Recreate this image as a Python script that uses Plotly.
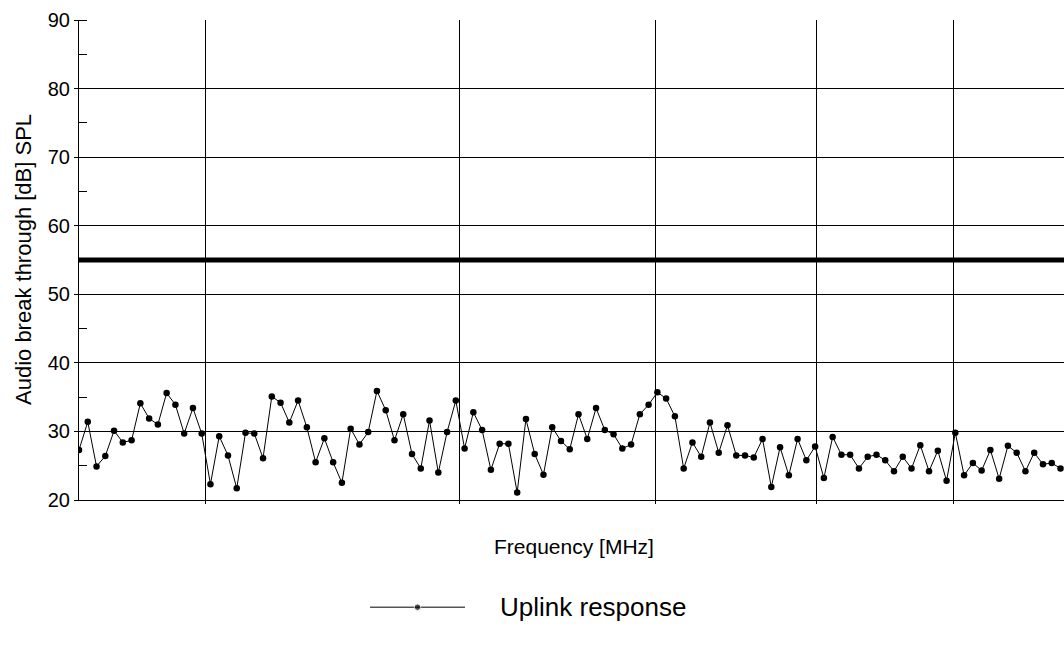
import plotly.graph_objects as go

# Uplink audio break-through, one reading per frequency step
uplink_db = [
    27.3, 31.4, 24.9, 26.4, 30.1, 28.4, 28.7, 34.1, 31.9, 31.0,
    35.6, 33.9, 29.7, 33.4, 29.7, 22.3, 29.3, 26.5, 21.7, 29.8,
    29.7, 26.1, 35.1, 34.2, 31.3, 34.5, 30.6, 25.5, 29.0, 25.5,
    22.5, 30.4, 28.1, 29.9, 35.9, 33.1, 28.7, 32.5, 26.7, 24.6,
    31.6, 24.0, 29.9, 34.5, 27.5, 32.8, 30.2, 24.4, 28.2, 28.2,
    21.1, 31.8, 26.7, 23.7, 30.6, 28.6, 27.4, 32.5, 28.9, 33.4,
    30.2, 29.6, 27.5, 28.1, 32.5, 33.9, 35.7, 34.8, 32.2, 24.6,
    28.4, 26.3, 31.3, 26.9, 30.9, 26.5, 26.5, 26.2, 28.9, 21.9,
    27.7, 23.6, 28.9, 25.8, 27.8, 23.2, 29.2, 26.6, 26.6, 24.6,
    26.3, 26.6, 25.8, 24.2, 26.3, 24.6, 28.0, 24.2, 27.2, 22.8,
    29.8, 23.6, 25.4, 24.3, 27.3, 23.1, 27.9, 26.9, 24.2, 26.9,
    25.2, 25.4, 24.6,
]
freq_step = list(range(len(uplink_db)))

# Limit level for audio break-through
limit_db = 55.0
limit_x = [0, 112.4]

# Vertical frequency grid positions (in frequency steps), unlabeled
freq_grid = [14.4, 43.4, 65.8, 84.1, 99.8]
y_ticks = [20, 30, 40, 50, 60, 70, 80, 90]

FONT = "Liberation Sans, Arial, sans-serif"
PLOT_BOTTOM = (648 - 500) / 628  # paper fraction where the y axis starts

fig = go.Figure()

fig.add_trace(go.Scatter(
    x=limit_x, y=[limit_db, limit_db], mode="lines",
    line=dict(color="black", width=5), showlegend=False, hoverinfo="skip",
))

fig.add_trace(go.Scatter(
    x=freq_step, y=uplink_db, mode="lines+markers",
    line=dict(color="black", width=1),
    marker=dict(color="black", size=6.5),
    name="Uplink response", showlegend=False,
))

# Legend sample drawn on its own small axes below the chart
fig.add_trace(go.Scatter(
    x=[0, 1, 2], y=[0, 0, 0], mode="lines+markers",
    line=dict(color="black", width=1),
    marker=dict(color="black", size=[0, 6.5, 0]),
    xaxis="x2", yaxis="y2", showlegend=False, hoverinfo="skip",
))

fig.update_layout(
    width=1064, height=648,
    margin=dict(l=79, r=0, t=20, b=0, autoexpand=False),
    paper_bgcolor="white", plot_bgcolor="white",
    font=dict(family=FONT, color="black"),
    xaxis=dict(
        range=[0, 112.4], domain=[0, 1],
        tickmode="array", tickvals=freq_grid, showticklabels=False,
        ticks="outside", ticklen=3, tickcolor="black", tickwidth=1,
        showgrid=True, gridcolor="black", gridwidth=1,
        showline=True, linecolor="black", linewidth=1,
        zeroline=False, fixedrange=True, automargin=False,
    ),
    yaxis=dict(
        range=[20, 90], domain=[PLOT_BOTTOM, 1],
        tickmode="array", tickvals=y_ticks,
        ticks="outside", ticklen=4, tickcolor="black", tickwidth=1,
        tickfont=dict(size=20, color="black"),
        minor=dict(ticks="inside", ticklen=8, dtick=5, tick0=0,
                   tickcolor="black", tickwidth=1, showgrid=False),
        showgrid=True, gridcolor="black", gridwidth=1,
        showline=True, linecolor="black", linewidth=1,
        zeroline=False, fixedrange=True, automargin=False,
    ),
    xaxis2=dict(domain=[(370 - 79) / 985, (465 - 79) / 985], range=[0, 2],
                anchor="y2", visible=False, fixedrange=True),
    yaxis2=dict(domain=[0.045, 0.085], range=[-1, 1],
                anchor="x2", visible=False, fixedrange=True),
    annotations=[
        dict(text="Audio break through [dB] SPL", xref="paper", yref="paper",
             x=(23 - 79) / 985, y=(PLOT_BOTTOM + 1) / 2, textangle=-90,
             xanchor="center", yanchor="middle", showarrow=False,
             font=dict(size=22)),
        dict(text="Frequency [MHz]", xref="paper", yref="paper",
             x=(574 - 79) / 985, y=(648 - 546) / 628,
             xanchor="center", yanchor="middle", showarrow=False,
             font=dict(size=21)),
        dict(text="Uplink response", xref="paper", yref="paper",
             x=(498 - 79) / 985, y=0.065,
             xanchor="left", yanchor="middle", showarrow=False,
             font=dict(size=26)),
    ],
)

fig.write_html("out.html")
